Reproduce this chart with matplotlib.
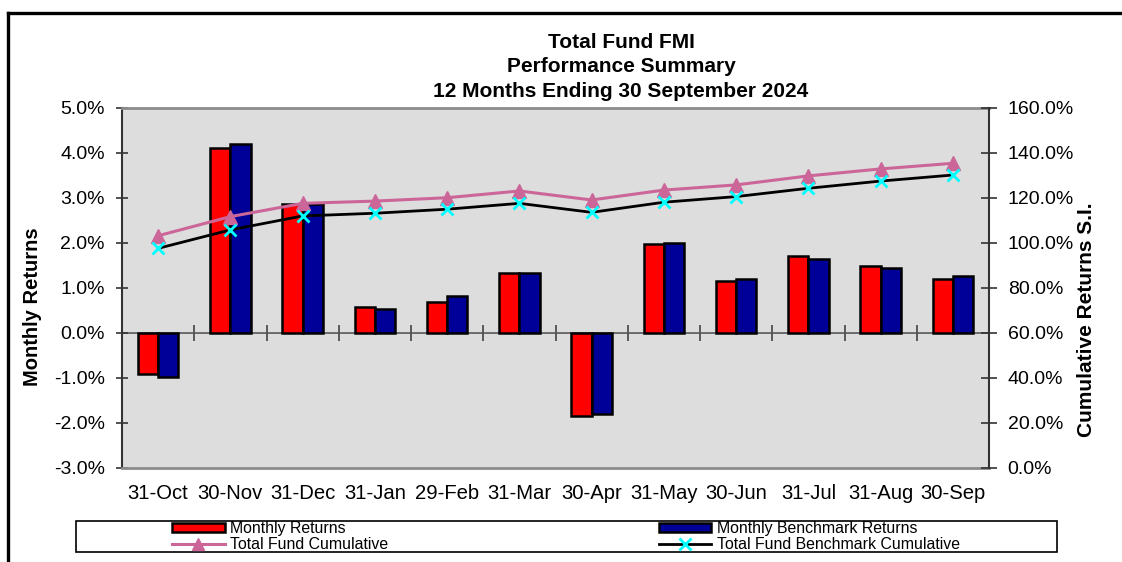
import numpy as np
import matplotlib
matplotlib.use("Agg")
import matplotlib.pyplot as plt
from matplotlib.ticker import FuncFormatter
from matplotlib.lines import Line2D
from matplotlib.patches import Rectangle

plt.rcParams['font.family'] = ['Liberation Sans', 'DejaVu Sans']

categories = ['31-Oct', '30-Nov', '31-Dec', '31-Jan', '29-Feb', '31-Mar',
              '30-Apr', '31-May', '30-Jun', '31-Jul', '31-Aug', '30-Sep']
monthly_returns = [-0.93, 4.09, 2.85, 0.56, 0.68, 1.33, -1.85, 1.96, 1.15, 1.69, 1.47, 1.18]
benchmark_returns = [-0.98, 4.18, 2.85, 0.53, 0.81, 1.32, -1.80, 2.00, 1.18, 1.64, 1.44, 1.26]
fund_cumulative = [103.0, 111.5, 117.4, 118.4, 119.9, 122.9, 118.9, 123.3, 125.6, 129.6, 132.7, 135.2]
bench_cumulative = [97.4, 105.6, 111.8, 113.0, 114.8, 117.4, 113.4, 117.9, 120.4, 124.1, 127.3, 130.0]

left_ticks = [-3, -2, -1, 0, 1, 2, 3, 4, 5]
right_ticks = [0, 20, 40, 60, 80, 100, 120, 140, 160]

W, H = 1122, 562
fig = plt.figure(figsize=(W / 100, H / 100), dpi=100)
fig.patch.set_facecolor('white')

ax = fig.add_axes([122 / W, 1 - 467.5 / H, (989 - 122) / W, (467.5 - 107.5) / H])
ax.set_facecolor('#DDDDDD')

x = np.arange(len(categories))
bw = 0.28
ax.bar(x - bw / 2, monthly_returns, bw, color='#FF0000', edgecolor='black', linewidth=1.8, zorder=3)
ax.bar(x + bw / 2, benchmark_returns, bw, color='#000099', edgecolor='black', linewidth=1.8, zorder=3)

ax.set_xlim(-0.5, len(categories) - 0.5)
ax.set_ylim(left_ticks[0], left_ticks[-1])
ax.set_yticks(left_ticks)
ax.yaxis.set_major_formatter(FuncFormatter(lambda v, p: f"{v:.1f}%"))
ax.tick_params(axis='y', direction='inout', length=9, width=1.2, labelsize=14, pad=8, color='#333333')
ax.set_xticks(x)
ax.set_xticklabels(categories)
ax.tick_params(axis='x', length=0, labelsize=14.6, pad=12)

for s in ['top', 'bottom']:
    ax.spines[s].set_color('#8C8C8C')
    ax.spines[s].set_linewidth(2)
ax.spines['left'].set_color('#333333')
ax.spines['left'].set_linewidth(1.5)
ax.spines['right'].set_visible(False)

ax.set_ylabel('Monthly Returns', fontsize=14.5, fontweight='bold')
ax.yaxis.set_label_coords(-0.092, 0.446)

# zero line with category-boundary ticks
zero_frac = (0 - left_ticks[0]) / (left_ticks[-1] - left_ticks[0])
sec = ax.secondary_xaxis(zero_frac)
sec.set_xticks(np.arange(len(categories) - 1) + 0.5)
sec.tick_params(axis='x', direction='inout', length=11, width=1.2, color='#444444', labelbottom=False, labeltop=False)
sec.spines['bottom'].set_color('#555555')
sec.spines['bottom'].set_linewidth(1.2)
sec.spines['top'].set_color('#555555')
sec.spines['top'].set_linewidth(1.2)

ax2 = ax.twinx()
ax2.plot(x, fund_cumulative, color='#CC6699', linewidth=2.2, marker='^', markersize=10,
         markerfacecolor='#CC6699', markeredgecolor='#CC6699', zorder=4)
ax2.plot(x, bench_cumulative, color='black', linewidth=2.0, marker='x', markersize=9,
         markeredgewidth=2, markeredgecolor='#00FFFF', zorder=5)
ax2.set_ylim(right_ticks[0], right_ticks[-1])
ax2.set_yticks(right_ticks)
ax2.yaxis.set_major_formatter(FuncFormatter(lambda v, p: f"{v:.1f}%"))
ax2.tick_params(axis='y', direction='inout', length=11, width=1.2, labelsize=14, pad=8, color='#333333')
for s in ['top', 'bottom', 'left']:
    ax2.spines[s].set_visible(False)
ax2.spines['right'].set_color('#333333')
ax2.spines['right'].set_linewidth(1.5)
ax2.set_ylabel('Cumulative Returns S.I.', fontsize=15, fontweight='bold', rotation=90)
ax2.yaxis.set_label_coords(1.101, 0.41)

# title
fig.text(621 / W, 1 - 67 / H, 'Total Fund FMI\nPerformance Summary\n12 Months Ending 30 September 2024',
         ha='center', va='center', fontsize=15, fontweight='bold', linespacing=1.38)

# legend
handles = [
    Rectangle((0, 0), 1, 1, facecolor='#FF0000', edgecolor='black', linewidth=1.8),
    Line2D([], [], color='#CC6699', linewidth=2.2, marker='^', markersize=9,
           markerfacecolor='#CC6699', markeredgecolor='#CC6699'),
    Rectangle((0, 0), 1, 1, facecolor='#000099', edgecolor='black', linewidth=1.8),
    Line2D([], [], color='black', linewidth=2.0, marker='x', markersize=8,
           markeredgewidth=2, markeredgecolor='#00FFFF'),
]
labels = ['Monthly Returns', 'Total Fund Cumulative', 'Monthly Benchmark Returns',
          'Total Fund Benchmark Cumulative']
leg = fig.legend(handles, labels, ncol=2, loc='center', bbox_to_anchor=(566 / W, 1 - 536.5 / H),
                 frameon=False, fontsize=11.4, handlelength=3.3, handleheight=0.55,
                 handletextpad=0.35, columnspacing=17.1, labelspacing=0.05, borderpad=0)
fig.add_artist(Rectangle((75.7 / W, 1 - 552 / H), (1057 - 75.7) / W, (552 - 520.7) / H,
                         transform=fig.transFigure, facecolor='none', edgecolor='black', linewidth=1.2))

# outer frame (left and top edges)
fig.add_artist(Line2D([8 / W, 8 / W], [0, 1 - 13 / H], transform=fig.transFigure, color='black', linewidth=2.4))
fig.add_artist(Line2D([8 / W, 1], [1 - 13 / H, 1 - 13 / H], transform=fig.transFigure, color='black', linewidth=2.4))

fig.savefig('out.png', dpi=100)
